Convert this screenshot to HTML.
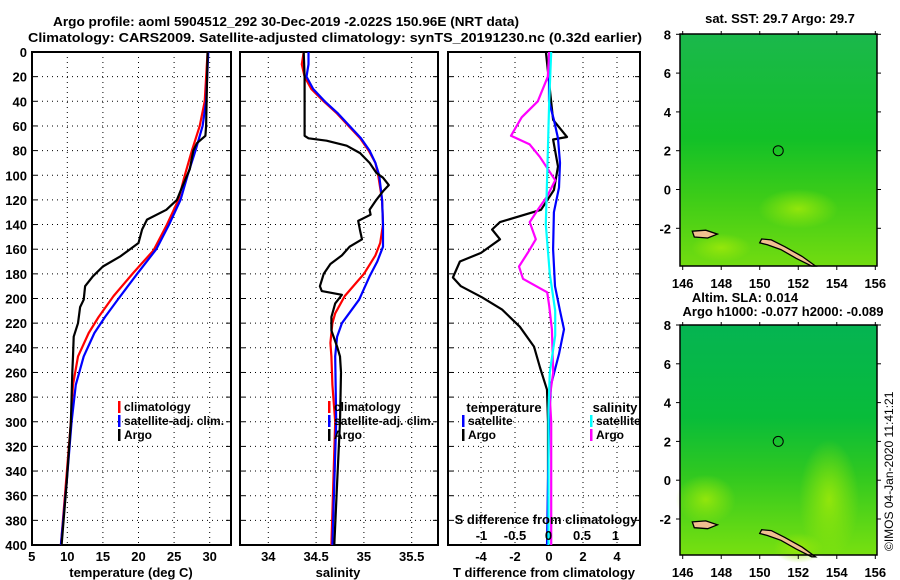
<!DOCTYPE html>
<html><head><meta charset="utf-8">
<style>
html,body{margin:0;padding:0;background:#fff;}
svg{display:block;font-family:"Liberation Sans",sans-serif;}
.b{font-weight:bold;font-size:13px;}
</style></head>
<body>
<svg id="fig" width="900" height="580" viewBox="0 0 900 580">
<defs>
<linearGradient id="sstg" x1="0" y1="0" x2="0" y2="1">
<stop offset="0" stop-color="#1bb84c"/><stop offset="0.45" stop-color="#12c028"/><stop offset="0.7" stop-color="#3ccc18"/><stop offset="1" stop-color="#72dc10"/>
</linearGradient>
<linearGradient id="slag" x1="0" y1="0" x2="0" y2="1">
<stop offset="0" stop-color="#05b452"/><stop offset="0.4" stop-color="#08bc3a"/><stop offset="0.65" stop-color="#30c820"/><stop offset="1" stop-color="#78e010"/>
</linearGradient>
<radialGradient id="blob"><stop offset="0" stop-color="#9ae80a" stop-opacity="0.9"/><stop offset="1" stop-color="#9ae80a" stop-opacity="0"/></radialGradient>
</defs>
<text x="286" y="26" class="b" text-anchor="middle" textLength="466" lengthAdjust="spacingAndGlyphs">Argo profile: aoml 5904512_292 30-Dec-2019 -2.022S 150.96E (NRT data)</text>
<text x="335" y="42" class="b" text-anchor="middle" textLength="614" lengthAdjust="spacingAndGlyphs">Climatology: CARS2009. Satellite-adjusted climatology: synTS_20191230.nc (0.32d earlier)</text>
<g id="plots"></g>
<text transform="translate(893,551) rotate(-90)" font-size="12">©IMOS 04-Jan-2020 11:41:21</text>
</svg>
<script>
// ---------- data ----------
const depthTicks=[0,20,40,60,80,100,120,140,160,180,200,220,240,260,280,300,320,340,360,380,400];
const tempTicks=[5,10,15,20,25,30];
const salTicks=[34,34.5,35,35.5];
const salTickLabels=["34","34.5","35","35.5"];
const tdiffTicks=[-4,-2,0,2,4];
const sdiffTicks=[-1,-0.5,0,0.5,1];
const sdiffTickLabels=["-1","-0.5","0","0.5","1"];

const tArgoDepth=[0,60,68,74,80,95,110,120,128,136,144,155,166,174,182,190,201,207,220,231,247,260,300,350,400];
const tArgo=[29.7,29.5,29.4,28.2,27.7,27.2,26.1,25.4,23.9,21.2,20.5,20.0,17.4,15.0,13.6,12.5,12.3,11.8,11.5,10.9,10.8,10.7,10.5,9.9,9.2];
const tClimDepth=[0,40,60,80,100,120,140,161,179,198,215,228,247,270,300,350,400];
const tClim=[29.7,29.3,28.6,27.5,26.5,25.6,24.0,22.1,19.3,16.5,14.4,13.0,11.5,10.8,10.5,9.8,9.1];
const tSatDepth=[0,40,60,80,100,120,140,160,180,200,215,228,247,270,300,350,400];
const tSat=[29.8,29.5,29.0,28.0,26.9,25.9,24.3,22.5,19.8,17.2,15.3,13.8,12.3,11.2,10.6,9.9,9.1];

const sArgoDepth=[0,20,68,70,72,76,82,90,98,102,108,113,120,128,132,137,145,152,158,165,172,180,190,194,197,204,215,226,239,247,260,300,350,400];
const sArgo=[34.37,34.38,34.38,34.42,34.61,34.82,34.96,35.06,35.13,35.20,35.26,35.20,35.13,35.06,35.07,34.94,34.96,34.98,34.85,34.77,34.65,34.58,34.54,34.56,34.77,34.70,34.66,34.66,34.72,34.75,34.76,34.75,34.72,34.69];
const sClimDepth=[0,10,20,30,40,50,60,70,80,90,100,120,140,155,165,180,198,212,220,236,247,270,300,400];
const sClim=[34.37,34.35,34.38,34.45,34.58,34.72,34.84,34.96,35.05,35.12,35.15,35.19,35.20,35.17,35.12,35.0,34.80,34.70,34.67,34.65,34.66,34.67,34.70,34.66];
const sSatDepth=[0,10,20,30,40,50,60,70,80,90,100,120,140,158,170,182,201,220,231,247,300,400];
const sSat=[34.42,34.42,34.40,34.47,34.59,34.73,34.85,34.97,35.06,35.12,35.16,35.19,35.20,35.20,35.14,35.06,34.95,34.77,34.72,34.70,34.71,34.67];

const dtArgoDepth=[0,55,69,71,93,112,128,138,144,152,163,170,183,190,199,209,223,239,256,274,300,400];
const dtArgo=[-0.18,0.24,1.06,0.24,0.53,0.29,-0.47,-2.88,-3.35,-2.88,-4.0,-5.24,-5.65,-5.18,-3.94,-2.76,-1.71,-0.88,-0.53,-0.12,-0.06,-0.06];
const dtSatDepth=[0,40,55,70,90,110,130,160,190,210,225,245,270,300,400];
const dtSat=[0,0,0.29,0.53,0.65,0.59,0.29,0.24,0.35,0.65,0.88,0.59,0.12,0,-0.12];
const dsArgoDepth=[0,20,40,53,68,75,85,104,117,128,138,152,163,174,184,195,206,225,260,280,300,400];
const dsArgo=[0.01,-0.01,-0.16,-0.40,-0.56,-0.28,-0.13,0.10,-0.02,-0.16,-0.28,-0.19,-0.31,-0.44,-0.38,-0.02,0.01,0.05,0.07,0.02,0.04,0.04];
const dsSatDepth=[0,40,100,140,180,210,230,260,290,400];
const dsSat=[0.04,0.01,-0.02,-0.04,0.02,0.10,0.10,0.02,0,0];

const lonTicks=[146,148,150,152,154,156];
const latTicks=[8,6,4,2,0,-2];
const argoLon=150.96, argoLat=2.0;

// ---------- helpers ----------
const NS="http://www.w3.org/2000/svg";
const root=document.getElementById('plots');
function mk(tag,attrs,parent){const e=document.createElementNS(NS,tag);for(const k in attrs)e.setAttribute(k,attrs[k]);(parent||root).appendChild(e);return e;}
const yTop=52, yBot=545;
const yD=d=>yTop+(d/400)*(yBot-yTop);

function panel(name,x0,x1,xs,ticks,labels,showY){
  const g=mk('g',{});
  
  
  depthTicks.forEach(d=>{
    if(d>0&&d<400){const l=mk('line',{x1:x0,x2:x1,y1:yD(d),y2:yD(d),stroke:'#000','stroke-dasharray':'1,4'},g);
    }
    mk('line',{x1:x0,x2:x0+5,y1:yD(d),y2:yD(d),stroke:'#000'},g);
    mk('line',{x1:x1-5,x2:x1,y1:yD(d),y2:yD(d),stroke:'#000'},g);
    if(showY){const t=mk('text',{x:27,y:yD(d)+5,'text-anchor':'end',class:'b'},g);t.textContent=d;
      }
  });
  ticks.forEach((v,i)=>{
    const X=xs(v);
    const l=mk('line',{x1:X,x2:X,y1:yTop,y2:yBot,stroke:'#000','stroke-dasharray':'1,4'},g);
    
    if(labels){const t=mk('text',{x:X,y:561,'text-anchor':'middle',class:'b'},g);t.textContent=labels[i];
      }
  });
  const r=mk('rect',{x:x0,y:yTop,width:x1-x0,height:yBot-yTop,fill:'none',stroke:'#000','stroke-width':2},g);
  
  return g;
}
function line(g,depths,vals,xs,color,name){
  const pts=depths.map((d,i)=>xs(vals[i]).toFixed(1)+','+yD(d).toFixed(1)).join(' ');
  const p=mk('polyline',{points:pts,fill:'none',stroke:color,'stroke-width':2.2,'stroke-linejoin':'round'},g);
  
  
}
function legend(g,x,y,color,label,name){
  const r=mk('rect',{x:x,y:y-10,width:2.5,height:12,fill:color},g);
  
  const t=mk('text',{x:x+6,y:y,'font-size':12,'font-weight':'bold'},g);t.textContent=label;
  
}
function txt(x,y,s,name,anchor,size){const t=mk('text',{x:x,y:y,'text-anchor':anchor||'middle','font-size':size||13,'font-weight':'bold'});t.textContent=s;
  return t;}

// ---------- temperature ----------
const xT=v=>31.7+(v-5)*7.12;
const gT=panel('temperature-panel',32,231,xT,tempTicks,tempTicks,true);
line(gT,tClimDepth,tClim,xT,'#ff0000','temp-climatology-line');
line(gT,tSatDepth,tSat,xT,'#0000ff','temp-satellite-line');
line(gT,tArgoDepth,tArgo,xT,'#000000','temp-argo-line');
legend(gT,118,411,'#ff0000','climatology','legend-climatology');
legend(gT,118,425,'#0000ff','satellite-adj. clim.','legend-satellite');
legend(gT,118,439,'#000000','Argo','legend-argo');
txt(131,577,'temperature (deg C)','temperature-axis-title');

// ---------- salinity ----------
const xS=v=>268.3+(v-34)*95.6;
const gS=panel('salinity-panel',240,438,xS,salTicks,salTickLabels,false);
line(gS,sClimDepth,sClim,xS,'#ff0000','sal-climatology-line');
line(gS,sSatDepth,sSat,xS,'#0000ff','sal-satellite-line');
line(gS,sArgoDepth,sArgo,xS,'#000000','sal-argo-line');
legend(gS,328,411,'#ff0000','climatology','legend-climatology');
legend(gS,328,425,'#0000ff','satellite-adj. clim.','legend-satellite');
legend(gS,328,439,'#000000','Argo','legend-argo');
txt(338,577,'salinity','salinity-axis-title');

// ---------- differences ----------
const xDT=v=>549+v*17;
const xDS=v=>548.5+v*67;
const gD=panel('difference-panel',448,640,xDT,tdiffTicks,tdiffTicks,false);
line(gD,dtArgoDepth,dtArgo,xDT,'#000000','tdiff-argo-line');
line(gD,dtSatDepth,dtSat,xDT,'#0000ff','tdiff-satellite-line');
line(gD,dsArgoDepth,dsArgo,xDS,'#ff00ff','sdiff-argo-line');
line(gD,dsSatDepth,dsSat,xDS,'#00ffff','sdiff-satellite-line');
txt(504,412,'temperature','legend-temperature-heading');
legend(gD,462,425,'#0000ff','satellite','legend-tdiff-satellite');
legend(gD,462,439,'#000000','Argo','legend-tdiff-argo');
txt(615,412,'salinity','legend-salinity-heading');
legend(gD,590,425,'#00ffff','satellite','legend-sdiff-satellite');
legend(gD,590,439,'#ff00ff','Argo','legend-sdiff-argo');
txt(546,524,'S difference from climatology','sdiff-axis-title');
sdiffTicks.forEach((v,i)=>txt(xDS(v),540,sdiffTickLabels[i],'sdiff-tick-label'));
txt(544,577,'T difference from climatology','tdiff-axis-title');

// ---------- maps ----------
function map(name,top,bot,lat8y,fill,extra){
  const x0=680,x1=877;
  const xl=lon=>682.7+(lon-146)*19.26;
  const yl=lat=>lat8y+(8-lat)*19.4;
  const g=mk('g',{});
  
  const bg=mk('rect',{x:x0,y:top,width:x1-x0,height:bot-top,fill:fill},g);
  
  if(extra){extra.forEach(b=>mk('ellipse',{cx:xl(b[0]),cy:yl(b[1]),rx:b[2],ry:b[3],fill:'url(#blob)'},g));}
  // islands
  const manus=[[146.5,-2.15],[147.2,-2.1],[147.8,-2.3],[147.3,-2.5],[146.6,-2.45]];
  const nireland=[[150.1,-2.55],[150.6,-2.6],[151.3,-2.95],[152.2,-3.45],[152.9,-3.95],[152.7,-3.95],[151.9,-3.55],[151.1,-3.1],[150.4,-2.85],[150.0,-2.75]];
  [manus,nireland].forEach(poly=>{
    const p=mk('polygon',{points:poly.map(q=>xl(q[0]).toFixed(1)+','+yl(q[1]).toFixed(1)).join(' '),fill:'#f0c090',stroke:'#000','stroke-width':1.3},g);
    
  });
  const c=mk('circle',{cx:xl(argoLon),cy:yl(argoLat),r:5,fill:'none',stroke:'#000','stroke-width':1},g);
  
  const fr=mk('rect',{x:x0,y:top,width:x1-x0,height:bot-top,fill:'none',stroke:'#000','stroke-width':1.5},g);
  
  lonTicks.forEach(v=>{
    mk('line',{x1:xl(v),x2:xl(v),y1:top-3,y2:top+1,stroke:'#000'},g);
    mk('line',{x1:xl(v),x2:xl(v),y1:bot,y2:bot+4,stroke:'#000'},g);
    const t=mk('text',{x:xl(v),y:bot+22,'text-anchor':'middle',class:'b'},g);t.textContent=v;
    
  });
  latTicks.forEach(v=>{
    mk('line',{x1:x0-4,x2:x0,y1:yl(v),y2:yl(v),stroke:'#000'},g);
    mk('line',{x1:x1,x2:x1+4,y1:yl(v),y2:yl(v),stroke:'#000'},g);
    const t=mk('text',{x:671,y:yl(v)+5,'text-anchor':'end',class:'b'},g);t.textContent=v;
    
  });
}
map('sst-map',34,266,34.3,'url(#sstg)',[[148,-3,30,14],[152,-1,40,20]]);
map('sla-map',325,555,325,'url(#slag)',[[153.6,-1,30,60],[147.2,-1,30,25],[152,-3.5,25,15]]);
txt(780,23,'sat. SST: 29.7 Argo: 29.7','sst-map-title');
txt(745,302,'Altim. SLA: 0.014','sla-map-title');
txt(783,316,'Argo h1000: -0.077 h2000: -0.089','argo-height-label');
</script>
</body></html>
